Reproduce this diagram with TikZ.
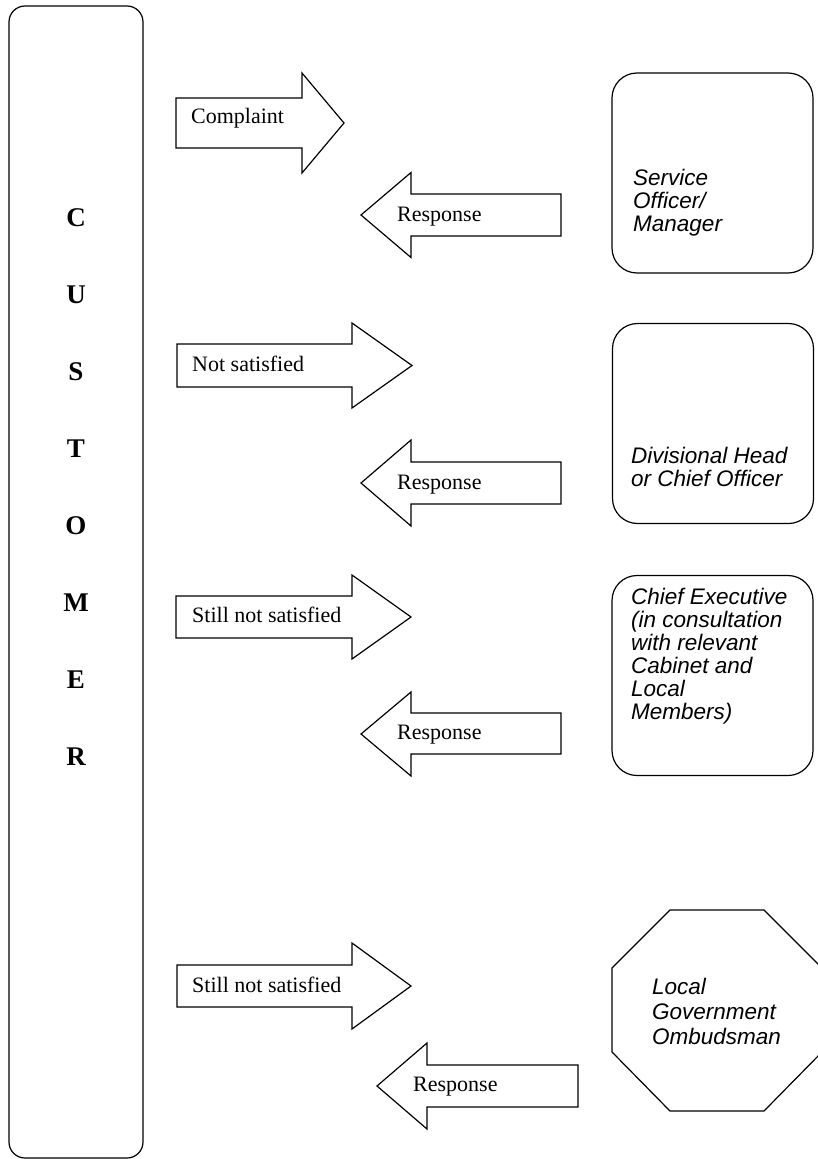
\documentclass[tikz,border=0pt]{standalone}
\usepackage{fontspec}
\setmainfont{Liberation Serif}
\setsansfont{Liberation Sans}
\usetikzlibrary{positioning}

\tikzset{
  outline/.style={draw, line width=1.2pt, line join=miter},
  stagebox/.style={outline, rounded corners=25pt, minimum width=201pt,
    minimum height=200pt, inner sep=0pt},
  flowtext/.style={font=\fontsize{22}{26}\selectfont, inner sep=0pt,
    anchor=base west},
  stagetext/.style={font=\sffamily\itshape\fontsize{22.5}{23}\selectfont,
    align=left, inner sep=0pt, anchor=north west},
  custletter/.style={font=\bfseries\fontsize{27}{30}\selectfont, inner sep=0pt}
}

\begin{document}
\begin{tikzpicture}[x=1pt, y=-1pt]
  \useasboundingbox (0,0) rectangle (818,1159);

  % customer column
  \node (customer) [outline, rounded corners=16pt, minimum width=134pt,
    minimum height=1152pt] at (76,582) {};
  \foreach \ch [count=\i from 0] in {C,U,S,T,O,M,E,R}
    \node (cust\i) [custletter] at (76,{217.5+77*\i}) {\ch};

  % stages
  \node (officer) [stagebox] at (712.5,173) {};
  \node (officertext) [stagetext] at (633,168.5) {Service\\Officer/\\Manager};
  \node (divhead) [stagebox] at (713,423.5) {};
  \node (divheadtext) [stagetext] at (631,447) {Divisional Head\\or Chief Officer};
  \node (chiefexec) [stagebox] at (712.5,675.5) {};
  \node (chiefexectext) [stagetext] at (631,587.5)
    {Chief Executive\\(in consultation\\with relevant\\Cabinet and\\Local\\Members)};
  \draw[outline] (670,910) -- (764,910) -- (822,968) -- (822,1052)
    -- (764,1111) -- (670,1111) -- (612,1052) -- (612,968) -- cycle;
  \node (ombudsman) [stagetext, font=\sffamily\itshape\fontsize{22.5}{25}\selectfont]
    at (652,977.5) {Local\\Government\\Ombudsman};

  % complaint / response arrows
  \draw[outline] (176,98) -- (302,98) -- (302,73) -- (344,123) -- (302,173)
    -- (302,148) -- (176,148) -- cycle;
  \draw[outline] (561,194) -- (411,194) -- (411,172.5) -- (361,215)
    -- (411,257.5) -- (411,236) -- (561,236) -- cycle;
  \draw[outline] (177,344) -- (352,344) -- (352,323) -- (412,365.5)
    -- (352,408) -- (352,387) -- (177,387) -- cycle;
  \draw[outline] (561,462) -- (411,462) -- (411,440) -- (361,483)
    -- (411,526) -- (411,504) -- (561,504) -- cycle;
  \draw[outline] (176,596) -- (352,596) -- (352,575) -- (411,617)
    -- (352,659) -- (352,638) -- (176,638) -- cycle;
  \draw[outline] (561,713) -- (411,713) -- (411,692) -- (361,734)
    -- (411,776) -- (411,754) -- (561,754) -- cycle;
  \draw[outline] (177,965) -- (352,965) -- (352,943) -- (411,986)
    -- (352,1029) -- (352,1007) -- (177,1007) -- cycle;
  \draw[outline] (578,1065) -- (427,1065) -- (427,1043) -- (377,1086)
    -- (427,1129) -- (427,1107) -- (578,1107) -- cycle;

  \node (complaint) [flowtext] at (191,123) {Complaint};
  \node (response1) [flowtext] at (397,221) {Response};
  \node (notsat) [flowtext] at (192,371) {Not satisfied};
  \node (response2) [flowtext] at (397,489) {Response};
  \node (stillnot1) [flowtext] at (192,622) {Still not satisfied};
  \node (response3) [flowtext] at (397,739) {Response};
  \node (stillnot2) [flowtext] at (192,992) {Still not satisfied};
  \node (response4) [flowtext] at (413,1091) {Response};
\end{tikzpicture}
\end{document}
